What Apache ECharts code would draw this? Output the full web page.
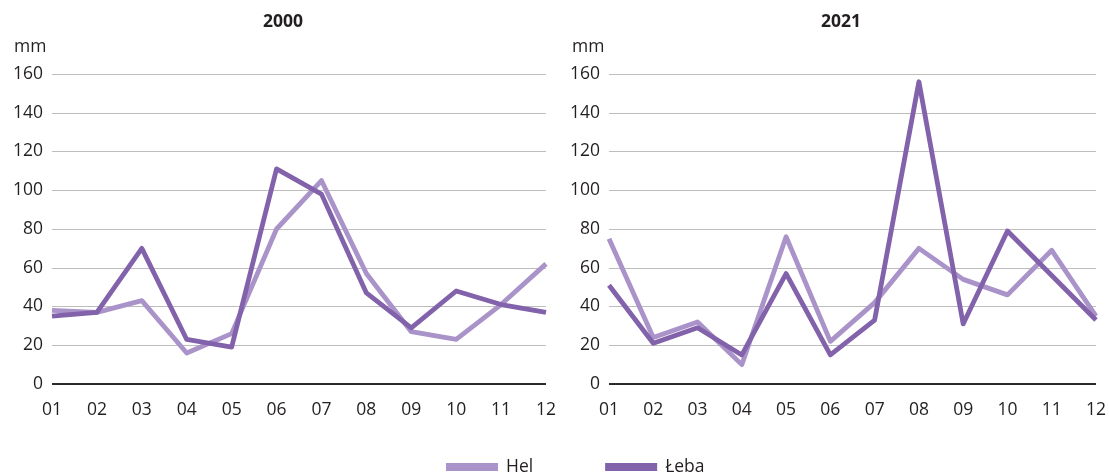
<!DOCTYPE html>
<html><head><meta charset="utf-8">
<script src="https://cdn.jsdelivr.net/npm/echarts@6/dist/echarts.min.js"></script>
<style>html,body{margin:0;padding:0;background:#fff}#c{width:1109px;height:475px}</style>
</head><body><div id="c"></div>
<script>
const months = ['01','02','03','04','05','06','07','08','09','10','11','12'];
const years = ['2000','2021'];
const hel2000 = [38,37,43,16,26,80,105,57,27,23,41,62];
const leba2000 = [35,37,70,23,19,111,98,47,29,48,41,37];
const hel2021 = [75,24,32,10,76,22,42,70,54,46,69,35];
const leba2021 = [51,21,29,15,57,15,33,156,31,79,56,33];
const yTicks = [0,20,40,60,80,100,120,140,160];

const helColor = '#a993c9';
const lebaColor = '#8262aa';
const font = 'Open Sans';
const txt = '#231f20';
const chart = echarts.init(document.getElementById('c'));
const grids = [{left:52, top:74, width:494, height:310},{left:609, top:74, width:494, height:310}];
function xAx(i){return {type:'category', gridIndex:i, data:months, boundaryGap:false,
  axisLine:{show:false}, axisTick:{show:false},
  axisLabel:{color:txt, fontSize:17.5, fontFamily:font, margin:17}};}
function yAx(i){return {type:'value', gridIndex:i, min:yTicks[0], max:yTicks[yTicks.length-1], interval:20,
  axisLine:{show:false}, axisTick:{show:false},
  axisLabel:{color:txt, fontSize:17.5, fontFamily:font, margin:9},
  splitLine:{lineStyle:{color:'#bdbdbd', width:1}}};}
function ser(name, data, color, i){return {name, type:'line', data, xAxisIndex:i, yAxisIndex:i,
  symbol:'none', lineStyle:{color, width:4.8, join:'round'}, itemStyle:{color}, z: name==='Hel'?2:3,
  markLine:{silent:true, symbol:'none', label:{show:false}, lineStyle:{color:txt, width:1.5, type:'solid'}, data:[{yAxis:0}]}};}
chart.setOption({
  animation:false,
  textStyle:{fontFamily:font},
  title:[
    {text:years[0], left:278, top:8, textAlign:'center', textStyle:{fontSize:17.5, fontWeight:'bold', color:txt, fontFamily:font}},
    {text:years[1], left:836, top:8, textAlign:'center', textStyle:{fontSize:17.5, fontWeight:'bold', color:txt, fontFamily:font}},
    {text:'mm', left:9, top:33, textStyle:{fontSize:17.5, fontWeight:'normal', color:txt, fontFamily:font}},
    {text:'mm', left:567, top:33, textStyle:{fontSize:17.5, fontWeight:'normal', color:txt, fontFamily:font}}
  ],
  grid:grids,
  xAxis:[xAx(0), xAx(1)],
  yAxis:[yAx(0), yAx(1)],
  legend:{top:453, left:441, itemWidth:52, itemHeight:8, itemGap:72, icon:'rect',
    textStyle:{fontSize:17.5, color:txt, fontFamily:font, padding:[0,0,0,3]},
    data:['Hel','Łeba']},
  series:[
    ser('Hel', hel2000, helColor, 0),
    ser('Łeba', leba2000, lebaColor, 0),
    ser('Hel', hel2021, helColor, 1),
    ser('Łeba', leba2021, lebaColor, 1)
  ]
});
</script></body></html>
